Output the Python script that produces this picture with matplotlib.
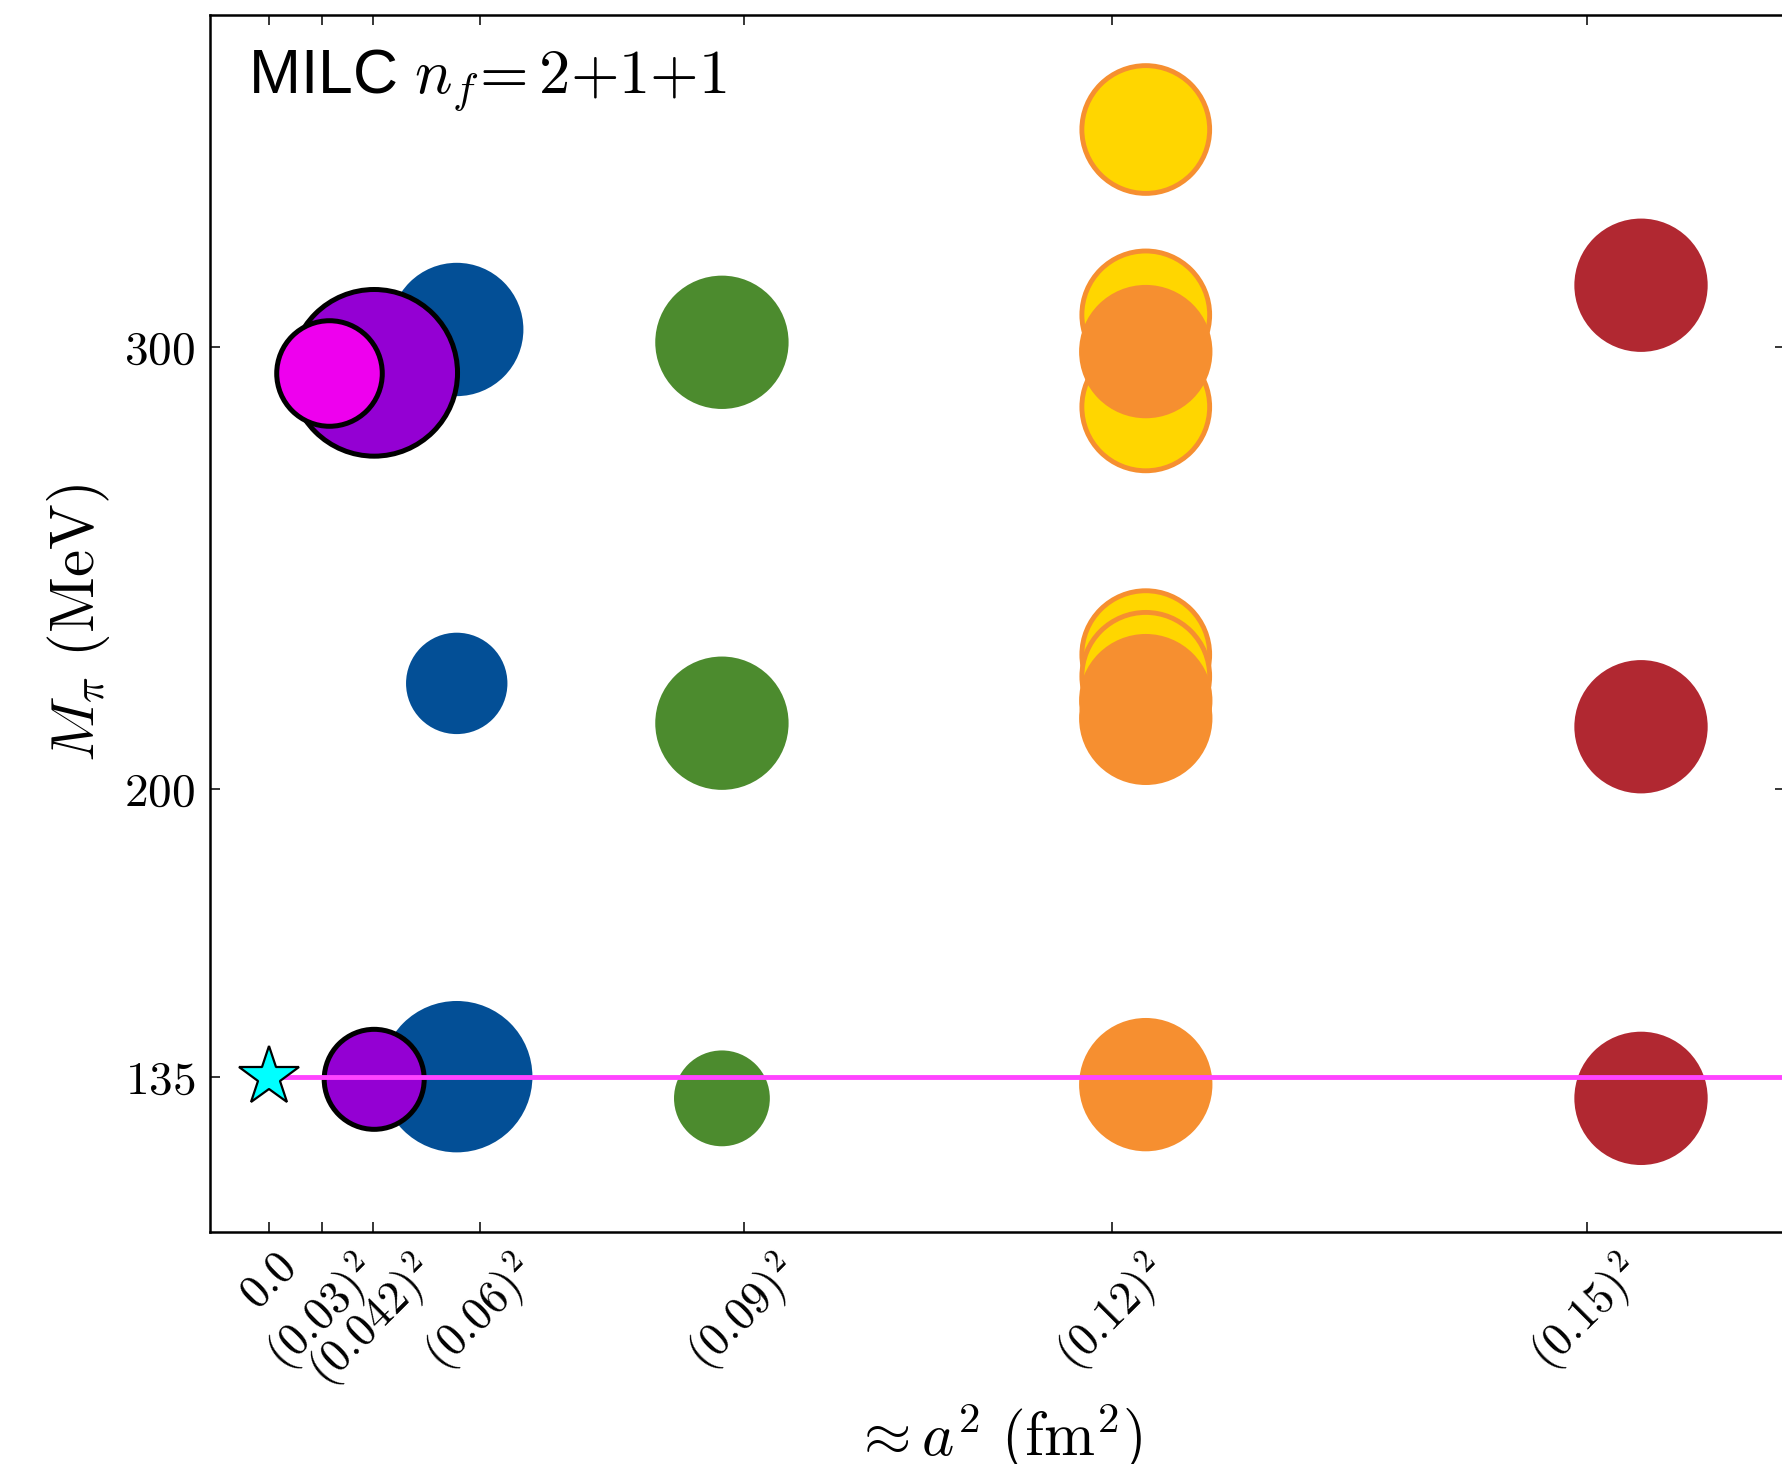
import matplotlib
matplotlib.use("Agg")
import matplotlib.pyplot as plt
from matplotlib import font_manager

# pick a narrow sans for the "MILC" word if it is there
names = set(f.name for f in font_manager.fontManager.ttflist)
sans = "Liberation Sans Narrow" if "Liberation Sans Narrow" in names else "Liberation Sans"

plt.rcParams["mathtext.fontset"] = "cm"
plt.rcParams["font.family"] = [sans, "DejaVu Sans"]

# lattice spacings (a^2 in fm^2) and pion masses (MeV) per ensemble group
blue_a2 = [0.0032, 0.0032, 0.0032]
blue_mpi = [303.9, 223.9, 135.0]
purple_a2 = [0.00179, 0.00179]
purple_mpi = [294.1, 134.4]
magenta_a2 = [0.00101]
magenta_mpi = [294.1]
green_a2 = [0.00773, 0.00773, 0.00773]
green_mpi = [301.0, 214.9, 130.1]
gold_a2 = [0.01497, 0.01497, 0.01497, 0.01497, 0.01497]
gold_mpi = [349.1, 307.2, 286.4, 230.4, 225.5]
orange_a2 = [0.01497, 0.01497, 0.01497, 0.01497]
orange_mpi = [298.9, 220.0, 216.0, 133.2]
red_a2 = [0.02343, 0.02343, 0.02343]
red_mpi = [313.9, 214.1, 130.1]
phys_mpi = 135.0

xtick_vals = [0.0, 0.03**2, 0.042**2, 0.06**2, 0.09**2, 0.12**2, 0.15**2]
xtick_labels = [r"$0.0$", r"$(0.03)^2$", r"$(0.042)^2$", r"$(0.06)^2$",
                r"$(0.09)^2$", r"$(0.12)^2$", r"$(0.15)^2$"]
ytick_vals = [135, 200, 300]

# marker diameters in points
blue_d = [96, 73, 109]
purple_d = [120, 72]
magenta_d = [76]
green_d = [96, 96, 69]
gold_d = [92] * 5
orange_d = [96] * 4
red_d = [96] * 3

fig = plt.figure(figsize=(17.82, 14.64), dpi=100)
ax = fig.add_axes([0.1180, 0.1588, 1.0017 - 0.1180, 0.9898 - 0.1588])

def sz(d):
  return [v * v for v in d]

ax.scatter(blue_a2, blue_mpi, s=sz(blue_d), c="#034f96", lw=0, zorder=2)
ax.scatter(green_a2, green_mpi, s=sz(green_d), c="#4c8b2e", lw=0, zorder=2)
ax.scatter(red_a2, red_mpi, s=sz(red_d), c="#b12831", lw=0, zorder=2)
ax.scatter(gold_a2, gold_mpi, s=sz(gold_d), c="#ffd600", edgecolors="#f68f30", lw=3.5, zorder=3)
ax.scatter(orange_a2, orange_mpi, s=sz(orange_d), c="#f68f30", lw=0, zorder=4)
ax.scatter(purple_a2, purple_mpi, s=sz(purple_d), c="#9400d3", edgecolors="black", lw=3.6, zorder=5)
ax.scatter(magenta_a2, magenta_mpi, s=sz(magenta_d), c="#ee00ee", edgecolors="black", lw=3.6, zorder=6)

ax.hlines(phys_mpi, 0.0, 0.03, colors="#ff44ff", lw=3.5, zorder=7)
ax.plot([0.0], [phys_mpi], marker="*", ms=45, mfc="#00ffff", mec="black", mew=1.6, zorder=8, clip_on=False)

ax.set_xlim(-0.00101, 0.02589)
ax.set_ylim(100, 375)

ax.set_xticks(xtick_vals)
ax.set_xticklabels(xtick_labels, rotation=45, fontsize=33)
ax.set_yticks(ytick_vals)
ax.set_yticklabels([r"$%d$" % v for v in ytick_vals], fontsize=34)
ax.tick_params(direction="in", length=7.2, width=1.1, top=True, right=True)
ax.tick_params(axis="x", pad=10)
ax.tick_params(axis="y", pad=11)
for sp in ax.spines.values():
  sp.set_linewidth(1.8)

ax.set_xlabel(r"$\approx a^2\ (\mathrm{fm}^2)$", fontsize=44, labelpad=3)
ax.set_ylabel(r"$M_\pi\ (\mathrm{MeV})$", fontsize=44, labelpad=9)

ax.text(0.024, 0.936, r"MILC $n_f\!=2{+}1{+}1$", transform=ax.transAxes,
        fontsize=45, va="baseline", ha="left")

plt.savefig("out.png", dpi=100)
